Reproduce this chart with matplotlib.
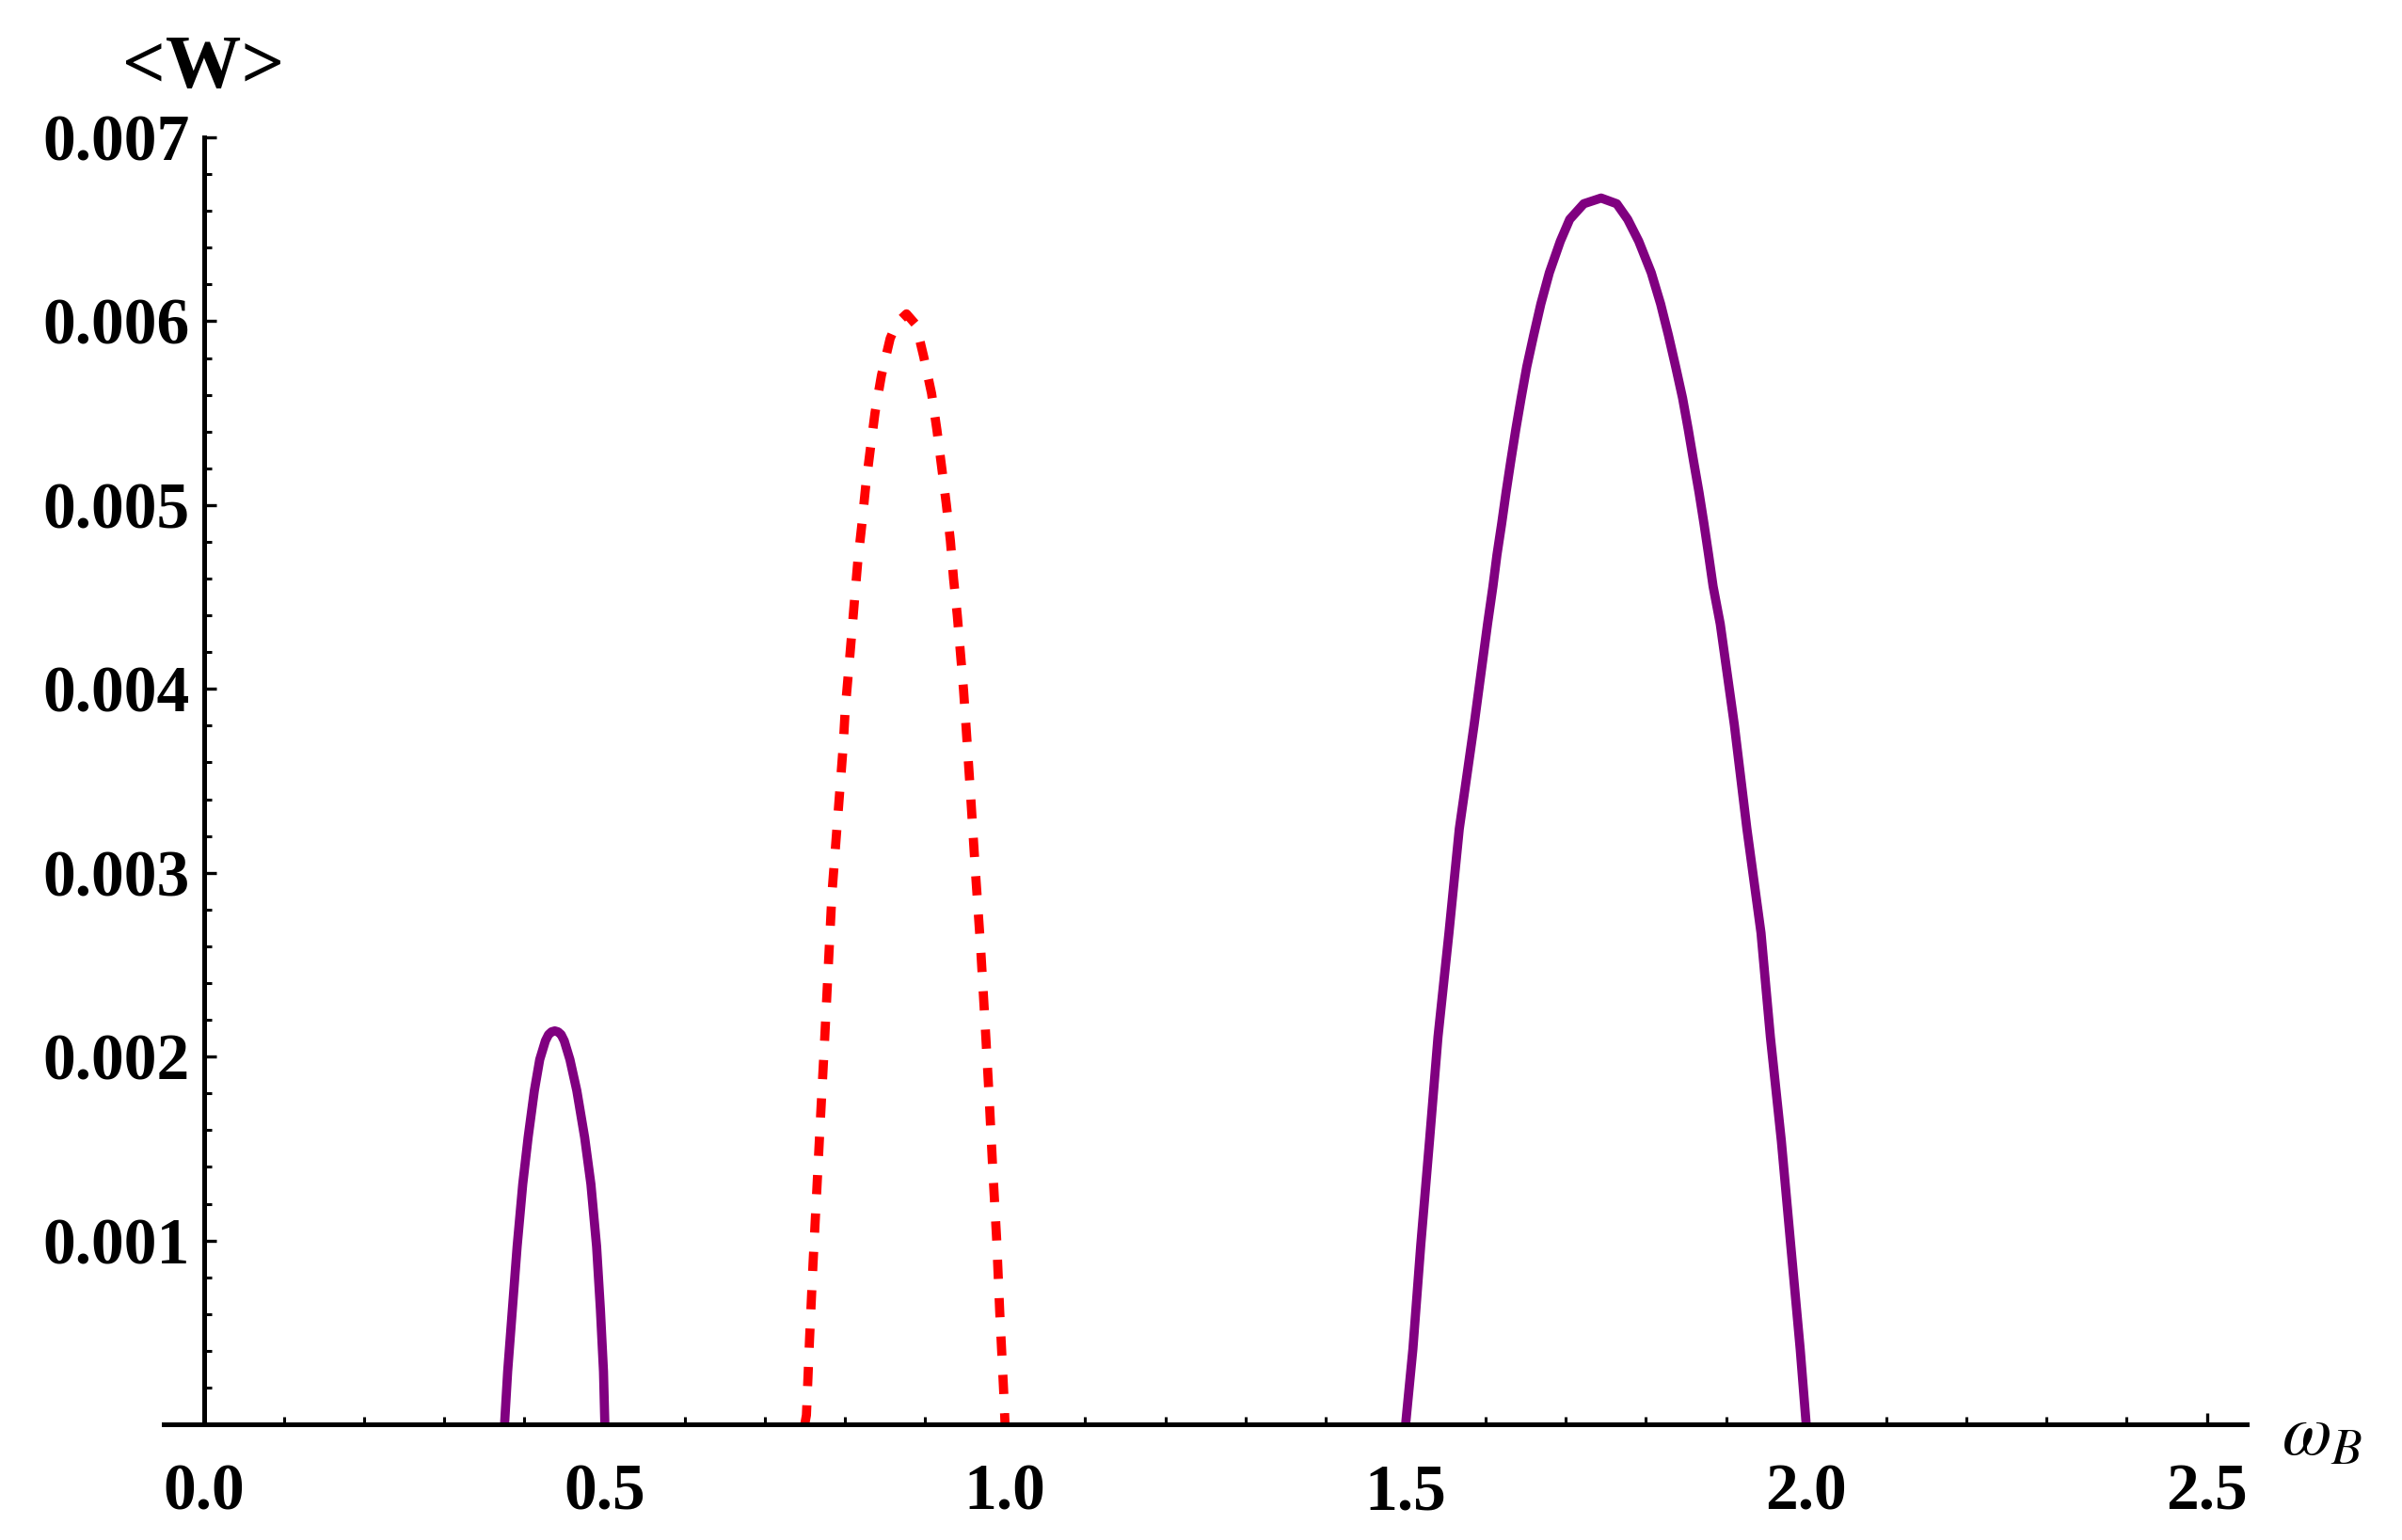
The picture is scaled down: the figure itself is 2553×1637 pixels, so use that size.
import numpy as np
import matplotlib
matplotlib.use("Agg")
import matplotlib.pyplot as plt
from matplotlib.ticker import MultipleLocator

# values
small_x = [0.3753, 0.3792, 0.3851, 0.3910, 0.3980, 0.4047, 0.4125, 0.4192, 0.4263, 0.4302, 0.4340,
           0.4380, 0.4420, 0.4459, 0.4498, 0.4569, 0.4655, 0.4753, 0.4831, 0.4902, 0.4949, 0.4988, 0.5005]
small_y = [0.0, 0.000288, 0.000628, 0.000967, 0.001306, 0.00156, 0.001815, 0.001984, 0.002086, 0.002120, 0.002135,
           0.002140, 0.002135, 0.002120, 0.002086, 0.001984, 0.001815, 0.00156, 0.001306, 0.000967, 0.000628, 0.000288, 0.0]

red_x = [0.7500, 0.7521, 0.7560, 0.7603, 0.7650, 0.7697, 0.7747, 0.7794, 0.7840, 0.7910, 0.7980,
         0.8006, 0.8046, 0.8085, 0.8124, 0.8163, 0.8214, 0.8261, 0.8320, 0.8378, 0.8457, 0.8566,
         0.8650, 0.8770, 0.8890, 0.8985, 0.9083, 0.9150, 0.9209, 0.9267, 0.9318, 0.9357, 0.9404,
         0.9443, 0.9482, 0.9514, 0.9572, 0.9630, 0.9693, 0.9747, 0.9798, 0.9844, 0.9895, 0.9934,
         0.9984, 1.0000]
red_y = [0.0, 0.00005, 0.000464, 0.000872, 0.00127, 0.00167, 0.00208, 0.00249, 0.00289, 0.00329, 0.00369,
         0.003893, 0.004093, 0.004294, 0.004498, 0.004698, 0.004899, 0.005104, 0.005309, 0.005505, 0.005705, 0.005906,
         0.005990, 0.006040, 0.005980, 0.005807, 0.005607, 0.005408, 0.005206, 0.005005, 0.004806, 0.004601, 0.004400,
         0.004197, 0.003995, 0.003791, 0.00341, 0.00301, 0.00261, 0.00221, 0.00181, 0.00141, 0.00101, 0.00061,
         0.00017, 0.0]

big_x = [1.5000, 1.5091, 1.5189, 1.5298, 1.5404, 1.5541, 1.5670, 1.5855, 1.6023, 1.6090, 1.6140,
         1.6199, 1.6254, 1.6313, 1.6375, 1.6442, 1.6512, 1.6598, 1.6688, 1.6794, 1.6931, 1.7048,
         1.7224, 1.7440, 1.7635, 1.7772, 1.7910, 1.8066, 1.8183, 1.8281, 1.8371, 1.8457, 1.8528,
         1.8594, 1.8662, 1.8724, 1.8782, 1.8838, 1.8927, 1.9103, 1.9260, 1.9436, 1.9553, 1.9690,
         1.9807, 1.9925, 2.0000]
big_y = [0.0, 0.000410, 0.000975, 0.001541, 0.002107, 0.002673, 0.003239, 0.003805, 0.004354, 0.004558, 0.004729,
         0.004899, 0.005070, 0.005240, 0.005411, 0.005582, 0.005752, 0.005923, 0.006094, 0.006264, 0.006435, 0.006554,
         0.006639, 0.006670, 0.006639, 0.006554, 0.006435, 0.006264, 0.006094, 0.005923, 0.005752, 0.005582, 0.005411,
         0.005240, 0.005070, 0.004899, 0.004729, 0.004558, 0.004354, 0.003805, 0.003239, 0.002673, 0.002107, 0.001541,
         0.000975, 0.000410, 0.0]

x_ticks = [0.0, 0.5, 1.0, 1.5, 2.0, 2.5]
x_tick_labels = ["0.0", "0.5", "1.0", "1.5", "2.0", "2.5"]
y_ticks = [0.001, 0.002, 0.003, 0.004, 0.005, 0.006, 0.007]
y_tick_labels = ["0.001", "0.002", "0.003", "0.004", "0.005", "0.006", "0.007"]

plt.rcParams['font.family'] = ['Liberation Serif', 'DejaVu Serif']
plt.rcParams['mathtext.fontset'] = 'stix'

fig = plt.figure(figsize=(25.53, 16.37), dpi=100)
ax = fig.add_axes([0.0682, 0.0751, 0.8672, 0.8357])

purple = '#800080'
ax.plot(small_x, small_y, color=purple, lw=7, solid_joinstyle='round')
ax.plot(red_x, red_y, color='#ff0000', lw=7, dashes=(2.1, 2.1))
ax.plot(big_x, big_y, color=purple, lw=7, solid_joinstyle='round')

ax.set_xlim(-0.05, 2.55)
ax.set_ylim(0, 0.007)

ax.spines['left'].set_position(('data', 0))
ax.spines['top'].set_visible(False)
ax.spines['right'].set_visible(False)
for s in ['left', 'bottom']:
    ax.spines[s].set_linewidth(3.6)

ax.set_xticks(x_ticks, x_tick_labels)
ax.set_yticks(y_ticks, y_tick_labels)
ax.xaxis.set_minor_locator(MultipleLocator(0.1))
ax.yaxis.set_minor_locator(MultipleLocator(0.0002))
ax.tick_params(which='major', direction='in', length=9, width=2.4, labelsize=50)
ax.tick_params(which='minor', direction='in', length=6, width=2.2)
ax.tick_params(axis='x', which='major', pad=30)
ax.tick_params(axis='y', which='major', pad=11)
for lab in ax.get_xticklabels() + ax.get_yticklabels():
    lab.set_fontweight('bold')

fig.text(0.0846, 0.943, "<W>", ha='center', va='baseline', fontsize=58, fontweight='bold')
fig.text(0.9500, 0.055, r"$\omega_B$", ha='left', va='baseline', fontsize=55)

fig.savefig("out.png", dpi=100)
